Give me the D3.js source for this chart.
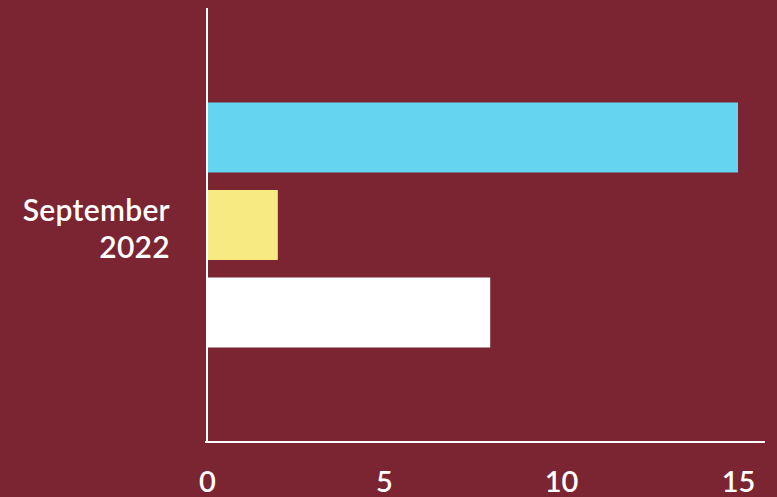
<!DOCTYPE html>
<html><head><meta charset="utf-8">
<script src="https://cdn.jsdelivr.net/npm/d3@7"></script>
<style>html,body{margin:0;padding:0;background:#7b2533;}svg{display:block;}</style>
</head><body>
<script>
const categories = ["September 2022"];
const seriesNames = ["A", "B", "C"];
const seriesValues = [15, 2, 8];
const seriesColors = ["#65d4f0", "#f8ea82", "#ffffff"];
const tickValues = [0, 5, 10, 15];

const W = 777, H = 497;
const svg = d3.select("body").append("svg").attr("width", W).attr("height", H);
svg.append("rect").attr("width", W).attr("height", H).attr("fill", "#7b2533");

const x0 = 207, yTop = 8, yBot = 442;
const x = d3.scaleLinear().domain([0, 15]).range([x0, 738]);
const y = d3.scaleBand().domain(categories).range([yTop, yBot]);
const ySub = d3.scaleBand().domain(seriesNames).range([0, y.bandwidth()]).paddingInner(0.2).paddingOuter(1.08);

const g = svg.append("g");
categories.forEach(cat => {
  g.selectAll("rect.bar").data(seriesValues).enter().append("rect")
    .attr("x", x(0))
    .attr("y", (d, i) => y(cat) + ySub(seriesNames[i]))
    .attr("width", d => x(d) - x(0))
    .attr("height", ySub.bandwidth())
    .attr("fill", (d, i) => seriesColors[i]);
});

// axes lines
svg.append("line").attr("x1", x0).attr("x2", x0).attr("y1", yTop).attr("y2", yBot + 1)
  .attr("stroke", "#ffffff").attr("stroke-width", 2);
svg.append("line").attr("x1", x0 - 2).attr("x2", x(15.76)).attr("y1", yBot).attr("y2", yBot)
  .attr("stroke", "#ffffff").attr("stroke-width", 2);

// x tick labels
const xAxis = d3.axisBottom(x).tickValues(tickValues).tickSize(0).tickPadding(0).tickFormat(d3.format("d"));
const ax = svg.append("g").attr("transform", `translate(0,${yBot})`).call(xAxis);
ax.select(".domain").remove();
ax.selectAll("text").attr("fill", "#ffffff").attr("font-family", "Lato, sans-serif")
  .attr("font-size", 29).attr("font-weight", 600).attr("dy", null).attr("y", 50);

// category label
categories.forEach(cat => {
  const words = cat.split(" ");
  const cy = y(cat) + y.bandwidth() / 2;
  const t = svg.append("text").attr("text-anchor", "end").attr("fill", "#ffffff")
    .attr("font-family", "Lato, sans-serif").attr("font-size", 30).attr("font-weight", 600)
    .attr("letter-spacing", 0.3);
  t.append("tspan").attr("x", 170).attr("y", cy - 4).text(words[0]);
  t.append("tspan").attr("x", 170).attr("y", cy + 33).text(words[1]);
});
</script>
</body></html>
